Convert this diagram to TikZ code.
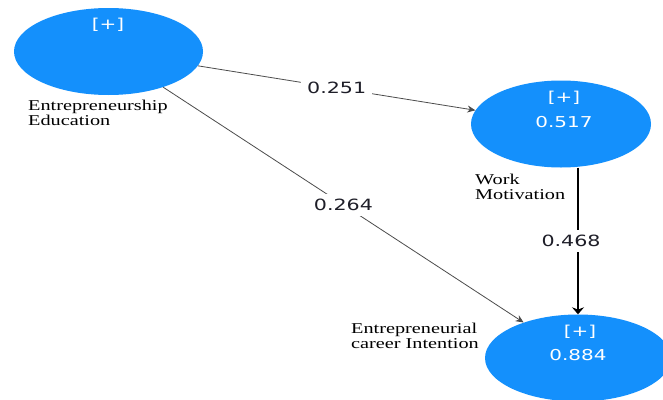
\documentclass[tikz,border=0pt]{standalone}
\usepackage{fontspec}
\setmainfont{Liberation Serif}[FakeStretch=1.35]
\newfontfamily\numfont{DejaVu Sans}[FakeStretch=1.33]
\usetikzlibrary{shapes.geometric,arrows.meta}
\definecolor{lvblue}{RGB}{20,144,252}
\definecolor{numcol}{RGB}{30,30,40}
\begin{document}
\begin{tikzpicture}[x=1pt,y=-1pt,
  lv/.style={ellipse,fill=lvblue,draw=none,inner sep=0pt,minimum width=#1,minimum height=87pt},
  intext/.style={text=white,font=\numfont\fontsize{15}{18}\selectfont,inner sep=0pt},
  lvlabel/.style={anchor=north west,align=left,inner sep=0pt,font=\fontsize{15}{15}\selectfont,text=black},
  coef/.style={fill=white,text=numcol,font=\numfont\fontsize{15.5}{18}\selectfont,inner xsep=6pt,inner ysep=5pt},
  thinpath/.style={draw=black!70,line width=0.8pt,-{Stealth[length=8pt,width=7pt]}},
  thickpath/.style={draw=black,line width=1.3pt,-{Stealth[length=7pt,width=12pt]}}
]
\useasboundingbox (0,0) rectangle (663,399);
\clip (0,0) rectangle (663,399);
\fill[white] (0,0) rectangle (663,399);

\node[lv=189pt] (EE) at (108.5,51.5) {};
\node[lv=180pt] (WM) at (561,124) {};
\node[lv=186pt] (ECI) at (578,358) {};

\node[intext] (eep) at (108,25) {[+]};
\node[intext] (wmp) at (564,98) {[+]};
\node[intext] (wmv) at (564,122) {0.517};
\node[intext] (ecip) at (580,332) {[+]};
\node[intext] (eciv) at (578,355) {0.884};

\node[lvlabel] (eelab) at (28,100) {Entrepreneurship\\Education};
\node[lvlabel] (wmlab) at (475,174) {Work\\Motivation};
\node[lvlabel] (ecilab) at (351,323) {Entrepreneurial\\career Intention};

\draw[thinpath] (EE) -- node[coef] {0.251} (WM);
\draw[thinpath] (EE) -- node[coef] {0.264} (ECI);
\draw[thickpath] (WM.south -| ECI.north) -- node[coef,xshift=-7pt] {0.468} (ECI.north);
\end{tikzpicture}
\end{document}
